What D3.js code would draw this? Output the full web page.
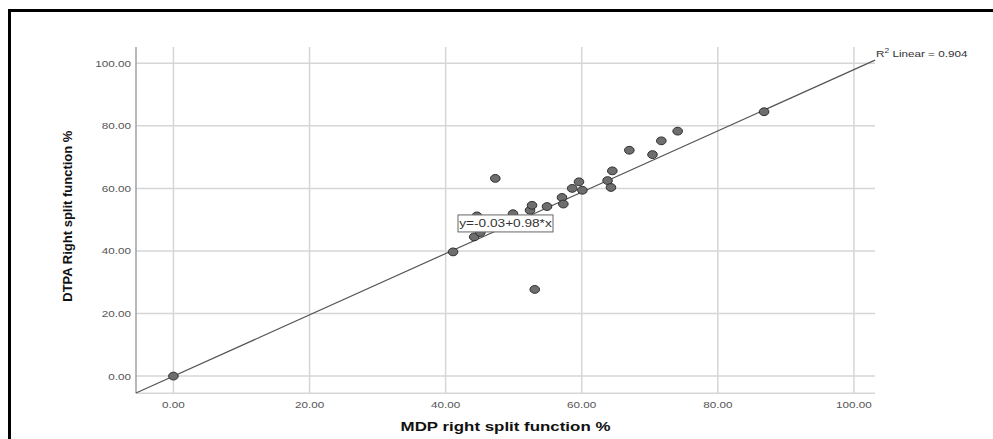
<!DOCTYPE html>
<html>
<head>
<meta charset="utf-8">
<script src="https://cdn.jsdelivr.net/npm/d3@7"></script>
<style>
  body { margin: 0; background: #fff; }
  svg { display: block; font-family: "Liberation Sans", Arial, sans-serif; }
</style>
</head>
<body>
<div id="chart"></div>
<script>
// MDP vs DTPA right split function (%)
const mdp  = [0, 41.1, 44.2, 45.1, 44.6, 47.3, 49.9, 52.4, 52.7, 53.1, 54.9, 57.1, 57.3, 58.6, 59.6, 60.1, 63.8, 64.3, 64.5, 67.0, 70.4, 71.7, 74.1, 86.8];
const dtpa = [0, 39.7, 44.5, 45.9, 51.2, 63.2, 51.9, 53.0, 54.6, 27.7, 54.2, 57.1, 55.0, 60.0, 62.1, 59.4, 62.5, 60.3, 65.6, 72.2, 70.8, 75.2, 78.3, 84.5];
const ticks = [0, 20, 40, 60, 80, 100];
const fit = { intercept: -0.03, slope: 0.98, r2: 0.904 };
const xTitle = "MDP right split function %";
const yTitle = "DTPA Right split function %";

const width = 993, height = 439;
const stretch = 1.3; // source image is stretched horizontally

const svg = d3.select("#chart").append("svg")
    .attr("width", width)
    .attr("height", height);

// outer frame
svg.append("rect")
    .attr("x", 9.5).attr("y", 10.5)
    .attr("width", 1000).attr("height", 500)
    .attr("fill", "none")
    .attr("stroke", "#000")
    .attr("stroke-width", 3);

const x = d3.scaleLinear().domain([-5.5, 103.1]).range([136, 875]);
const y = d3.scaleLinear().domain([-5.5, 105.2]).range([393.3, 47]);

// gridlines
svg.append("g").selectAll("line")
    .data(ticks).enter().append("line")
        .attr("x1", d => x(d)).attr("x2", d => x(d))
        .attr("y1", y.range()[0]).attr("y2", y.range()[1])
        .attr("stroke", "#d6d6d6").attr("stroke-width", 1.5);

svg.append("g").selectAll("line")
    .data(ticks).enter().append("line")
        .attr("x1", x.range()[0]).attr("x2", x.range()[1])
        .attr("y1", d => y(d)).attr("y2", d => y(d))
        .attr("stroke", "#d6d6d6").attr("stroke-width", 1.5);

// axis lines
svg.append("line")
    .attr("x1", x.range()[0]).attr("x2", x.range()[0])
    .attr("y1", y.range()[0]).attr("y2", y.range()[1])
    .attr("stroke", "#a0a0a0").attr("stroke-width", 1.5);
svg.append("line")
    .attr("x1", x.range()[0]).attr("x2", x.range()[1])
    .attr("y1", y.range()[0]).attr("y2", y.range()[0])
    .attr("stroke", "#d6d6d6").attr("stroke-width", 1.5);

// helper for horizontally stretched text
function stretchedText(px, py, str, opts) {
    const g = svg.append("g")
        .attr("transform", `translate(${px},${py}) scale(${stretch},1)`);
    const t = g.append("text")
        .attr("text-anchor", opts.anchor || "start")
        .attr("font-size", opts.size)
        .attr("font-weight", opts.weight || "normal")
        .attr("fill", opts.color || "#444")
        .text(str);
    return t;
}

const fmt = d3.format(".2f");

// tick labels
ticks.forEach(t => {
    stretchedText(x(t), 408, fmt(t), { anchor: "middle", size: 9, color: "#555" });
    stretchedText(131, y(t) + 3.5, fmt(t), { anchor: "end", size: 9, color: "#555" });
});

// axis titles
stretchedText((x.range()[0] + x.range()[1]) / 2, 431, xTitle,
    { anchor: "middle", size: 13, weight: "bold", color: "#111" });

svg.append("text")
    .attr("transform", `translate(72, ${(y.range()[0] + y.range()[1]) / 2 - 4}) rotate(-90)`)
    .attr("text-anchor", "middle")
    .attr("font-size", 13)
    .attr("font-weight", "bold")
    .attr("fill", "#111")
    .text(yTitle);

// fit line
const line = d3.line().x(d => x(d)).y(d => y(fit.intercept + fit.slope * d));
svg.append("path")
    .datum(x.domain())
    .attr("d", line)
    .attr("fill", "none")
    .attr("stroke", "#555")
    .attr("stroke-width", 1.2);

// points
svg.append("g").selectAll("ellipse")
    .data(d3.zip(mdp, dtpa)).enter().append("ellipse")
        .attr("cx", d => x(d[0]))
        .attr("cy", d => y(d[1]))
        .attr("rx", 4.8).attr("ry", 3.9)
        .attr("fill", "#6e6e6e")
        .attr("stroke", "#2e2e2e")
        .attr("stroke-width", 1);

// R2 label at end of fit line
const r2 = stretchedText(x.range()[1] + 1, 57, "", { size: 9, color: "#333" });
r2.append("tspan").text("R");
r2.append("tspan").attr("font-size", 6.5).attr("dy", -4).text("2");
r2.append("tspan").attr("dy", 4).text(" Linear = " + fit.r2);

// equation box
const ex = 48.8;
const eq = svg.append("g")
    .attr("transform", `translate(${x(ex)},${y(ex)})`);
eq.append("rect")
    .attr("x", -47.5).attr("y", -8.5)
    .attr("width", 95).attr("height", 17)
    .attr("fill", "#fff")
    .attr("stroke", "#666")
    .attr("stroke-width", 1);
eq.append("g").attr("transform", `scale(${stretch},1)`)
  .append("text")
    .attr("text-anchor", "middle")
    .attr("y", 4)
    .attr("font-size", 10.5)
    .attr("fill", "#333")
    .text(`y=${fit.intercept}+${fit.slope}*x`);
</script>
</body>
</html>
